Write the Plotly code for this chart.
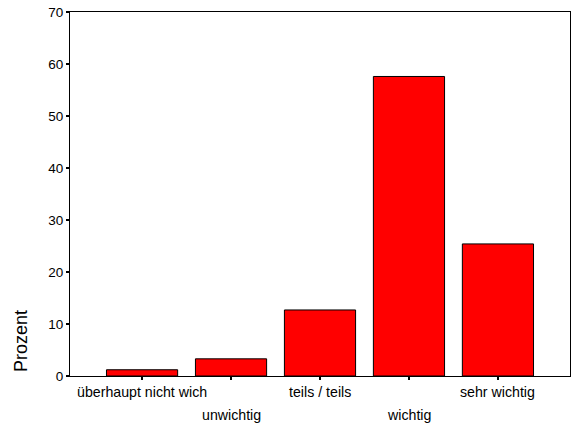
import plotly.graph_objects as go

categories = ["überhaupt nicht wich", "unwichtig", "teils / teils", "wichtig", "sehr wichtig"]
prozent = [1.2, 3.3, 12.7, 57.6, 25.4]
y_ticks = [0, 10, 20, 30, 40, 50, 60, 70]

font = "Liberation Sans, Arial, sans-serif"

fig = go.Figure()

fig.add_trace(go.Bar(
    x=list(range(len(categories))),
    y=prozent,
    width=0.8,
    marker=dict(color="#ff0000", line=dict(color="black", width=1)),
    showlegend=False,
))

# staggered category labels, like the original SPSS output
for i, cat in enumerate(categories):
    fig.add_annotation(
        x=i, y=0, xref="x", yref="paper",
        text=cat, showarrow=False,
        yanchor="middle",
        yshift=-16 if i % 2 == 0 else -39,
        font=dict(family=font, size=14.2, color="black"),
    )

# y title sits low, next to the first ticks (not centred on the axis)
fig.add_annotation(
    x=-49 / 500, y=35 / 364, xref="paper", yref="paper",
    xanchor="center", yanchor="middle",
    text="Prozent", textangle=-90, showarrow=False,
    font=dict(family=font, size=18, color="black"),
)

fig.update_layout(
    width=575, height=426,
    margin=dict(l=70, r=5, t=12, b=50),
    paper_bgcolor="white",
    plot_bgcolor="white",
    font=dict(family=font, color="black"),
    xaxis=dict(
        range=[-0.81, 4.81],
        tickvals=list(range(len(categories))),
        showticklabels=False,
        ticks="outside", ticklen=3, tickwidth=2, tickcolor="black",
        showline=True, linecolor="black", linewidth=1, mirror=True,
        showgrid=False, zeroline=False, automargin=False,
    ),
    yaxis=dict(
        range=[0, 70],
        tickvals=y_ticks,
        ticks="outside", ticklen=3, tickwidth=2, tickcolor="black",
        tickfont=dict(family=font, size=13.5, color="black"),
        ticklabeloverflow="allow",
        showline=True, linecolor="black", linewidth=1, mirror=True,
        showgrid=False, zeroline=False, automargin=False,
    ),
)

# drop the default 8px body margin so the figure fills the window
fig.write_html(
    "out.html",
    config={"displayModeBar": False},
    post_script="document.body.style.margin='0';",
)
